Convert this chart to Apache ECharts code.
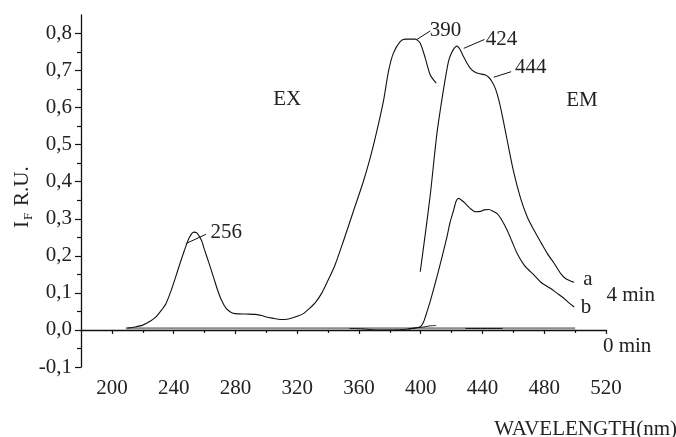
<!DOCTYPE html>
<html>
<head>
<meta charset="utf-8">
<script src="https://cdn.jsdelivr.net/npm/echarts@6/dist/echarts.min.js"></script>
<style>
html,body{margin:0;padding:0;background:#fff;}
#c{width:676px;height:437px;}
</style>
</head>
<body>
<div id="c"></div>
<script>
// ---- data (wavelength nm, intensity R.U.) ----
const xTicks = [200, 240, 280, 320, 360, 400, 440, 480, 520];
const xMinorTicks = [220, 260, 300, 340, 380, 420, 460, 500];
const yTicks = [-0.1, 0, 0.1, 0.2, 0.3, 0.4, 0.5, 0.6, 0.7, 0.8];
const yMinorTicks = [-0.05, 0.05, 0.15, 0.25, 0.35, 0.45, 0.55, 0.65, 0.75];

const ex4min = [[210,0.005],[215,0.008],[220,0.013],[225,0.024],[228,0.033],[232,0.053],[235,0.071],[238,0.102],[241,0.139],[244,0.178],[247,0.215],[250,0.248],[253,0.264],[255,0.262],[258,0.242],[260,0.216],[263,0.179],[266,0.14],[268.5,0.107],[271,0.08],[274,0.058],[277,0.048],[280,0.044],[287,0.043],[293,0.042],[297,0.039],[300,0.035],[305,0.031],[309,0.028],[312,0.028],[315,0.030],[320,0.037],[324,0.044],[328,0.058],[332,0.075],[336,0.1],[340,0.134],[344.4,0.174],[349.8,0.238],[356.3,0.319],[362.8,0.40],[367.2,0.463],[371.5,0.535],[375.8,0.616],[379.1,0.697],[382.3,0.747],[386.7,0.778],[390,0.785],[396.4,0.785],[399.7,0.774],[403,0.733],[406.2,0.688],[410,0.666]];
const emA = [[399.7,0.157],[403,0.26],[406.2,0.365],[410.5,0.53],[414.8,0.65],[418,0.725],[420,0.748],[422,0.762],[423.5,0.766],[425.5,0.757],[427.8,0.737],[430,0.72],[432.2,0.706],[435,0.696],[437.6,0.692],[441.9,0.688],[444,0.682],[446.2,0.670],[448.5,0.65],[450.6,0.62],[453,0.575],[456,0.512],[460,0.43],[464.7,0.355],[469,0.305],[473.4,0.269],[478,0.235],[482,0.206],[486.4,0.18],[490.7,0.152],[494,0.138],[498.3,0.130],[499.4,0.129]];
const emB = [[392,0.003],[396,0.005],[399.7,0.009],[401.5,0.018],[403,0.035],[406,0.075],[408,0.105],[410.5,0.143],[414,0.2],[417,0.251],[419,0.29],[421.3,0.323],[423,0.348],[424.6,0.355],[426.5,0.35],[429,0.341],[432,0.328],[435.4,0.319],[438.7,0.320],[441,0.324],[444.1,0.325],[447,0.32],[449.5,0.314],[452,0.3],[456,0.269],[459,0.24],[462.5,0.206],[467,0.175],[473.4,0.148],[478,0.128],[484.2,0.112],[488,0.1],[492.9,0.085],[496,0.073],[499.4,0.062]];
const zeroGray = [[209,0.004],[230,0.004],[300,0.004],[400,0.004],[500,0.004]];
const zeroBlack = [[354,0.004],[362,0.003],[368,0.001],[372,0.0],[380,0.0],[388,0.001],[393,0.003],[398,0.006],[402,0.008],[406,0.011],[410,0.012],[null,null],[429,0.004],[453,0.004]];

const labelTexts = ['390','424','444','EX','EM','256','a','b','4 min','0 min'];
const labelX = [416, 452.4, 471.2, 313.5, 504.4, 274.1, 508.3, 507, 536, 533.7];
const labelY = [0.807, 0.785, 0.708, 0.623, 0.618, 0.264, 0.137, 0.06, 0.094, -0.044];
const leaderFrom = [[397.5,0.784],[427.9,0.760],[447.3,0.682],[247.9,0.233]];
const leaderTo = [[406.2,0.807],[441.3,0.784],[458.6,0.697],[260.9,0.258]];

const FONT = '"Liberation Serif","DejaVu Serif",serif';
const TXT = '#222';
const FS = 21;

const chart = echarts.init(document.getElementById('c'), null, {renderer: 'canvas'});

function lineSeries(data, color, width) {
  return {type: 'line', data: data, showSymbol: false, smooth: 0.25, connectNulls: false,
    lineStyle: {color: color, width: width}, silent: true, xAxisIndex: 0, yAxisIndex: 0};
}

chart.setOption({
  animation: false,
  backgroundColor: '#fff',
  grid: {left: 81, right: 70, top: 15, bottom: 70},
  xAxis: [
    {type: 'value', min: 180, max: 520, position: 'bottom',
     axisLine: {show: true, lineStyle: {color: '#111', width: 1.3}},
     axisTick: {show: true, customValues: xTicks, length: 4, lineStyle: {color: '#111', width: 1.2}},
     axisLabel: {customValues: xTicks, fontFamily: FONT, fontSize: FS, color: TXT, margin: 11},
     splitLine: {show: false}},
    {type: 'value', min: 180, max: 520, position: 'bottom',
     axisLine: {show: false},
     axisTick: {show: true, customValues: xMinorTicks, length: 3, lineStyle: {color: '#111', width: 1.2}},
     axisLabel: {show: false}, splitLine: {show: false}}
  ],
  yAxis: [
    {type: 'value', min: -0.1, max: 0.85, position: 'left',
     axisLine: {show: true, lineStyle: {color: '#111', width: 1.3}},
     axisTick: {show: true, customValues: yTicks, length: 6, lineStyle: {color: '#111', width: 1.2}},
     axisLabel: {customValues: yTicks, fontFamily: FONT, fontSize: FS, color: TXT, margin: 9,
       formatter: v => (Math.abs(v) < 1e-9 ? 0 : v).toFixed(1).replace('.', ',')},
     splitLine: {show: false}},
    {type: 'value', min: -0.1, max: 0.85, position: 'left',
     axisLine: {show: false},
     axisTick: {show: true, customValues: yMinorTicks, length: 4, lineStyle: {color: '#111', width: 1.2}},
     axisLabel: {show: false}, splitLine: {show: false}}
  ],
  series: [
    lineSeries(zeroGray, '#8c8c8c', 2.2),
    lineSeries(zeroBlack, '#111', 1),
    lineSeries(ex4min, '#111', 1.1),
    lineSeries(emA, '#111', 1.1),
    lineSeries(emB, '#111', 1.1)
  ]
});

function px(p) { return chart.convertToPixel({xAxisIndex: 0, yAxisIndex: 0}, p); }

const g = [];
labelTexts.forEach((t, i) => {
  const p = px([labelX[i], labelY[i]]);
  g.push({type: 'text', x: p[0], y: p[1], silent: true,
    style: {text: t, font: FS + 'px ' + FONT, fill: TXT, align: 'center', verticalAlign: 'middle'}});
});
leaderFrom.forEach((f, i) => {
  const a = px(f), b = px(leaderTo[i]);
  g.push({type: 'line', silent: true, shape: {x1: a[0], y1: a[1], x2: b[0], y2: b[1]},
    style: {stroke: '#111', lineWidth: 1}});
});
// axis names
g.push({type: 'text', x: 677, y: 429, silent: true,
  style: {text: 'WAVELENGTH(nm)', font: FS + 'px ' + FONT, fill: TXT, align: 'right', verticalAlign: 'middle'}});
g.push({type: 'group', x: 22, y: 228, rotation: Math.PI / 2, silent: true, children: [
  {type: 'text', x: 0, y: 0, style: {text: 'I', font: FS + 'px ' + FONT, fill: TXT, align: 'left', verticalAlign: 'middle'}},
  {type: 'text', x: 8, y: 7, style: {text: 'F', font: '13px ' + FONT, fill: TXT, align: 'left', verticalAlign: 'middle'}},
  {type: 'text', x: 22, y: 0, style: {text: 'R.U.', font: FS + 'px ' + FONT, fill: TXT, align: 'left', verticalAlign: 'middle'}}
]});
chart.setOption({graphic: g});
</script>
</body>
</html>
